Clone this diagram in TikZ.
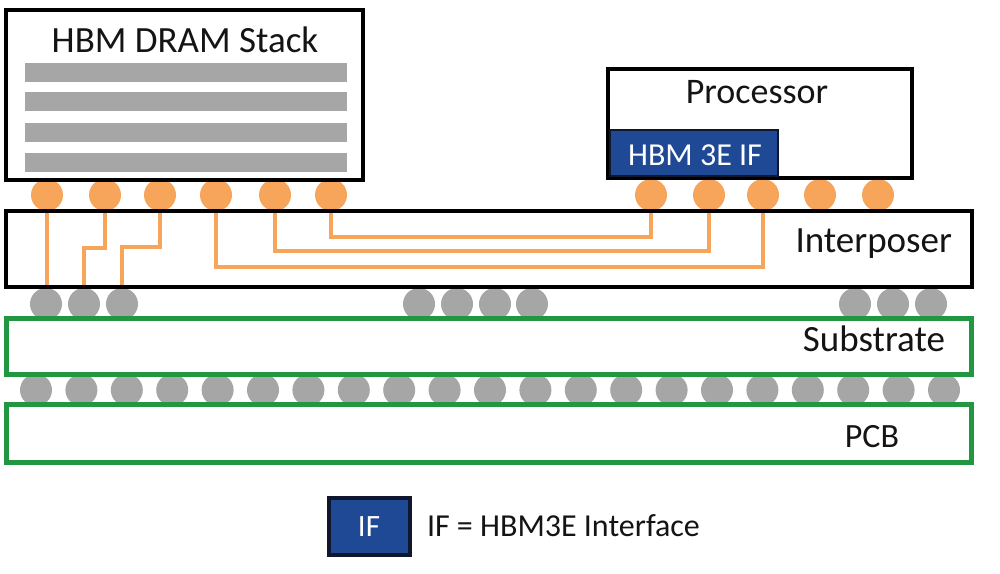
\documentclass[tikz,border=0pt]{standalone}
\usepackage{fontspec}
\setmainfont{Carlito}
\definecolor{bumporange}{RGB}{247,165,90}
\definecolor{bumpgray}{RGB}{166,166,166}
\definecolor{pkggreen}{RGB}{35,150,65}
\definecolor{ifblue}{RGB}{31,73,148}
\definecolor{ifedge}{RGB}{15,22,45}
\definecolor{txt}{RGB}{20,20,20}
\begin{document}
\begin{tikzpicture}[x=1pt,y=-1pt,
  blackbox/.style={draw=black, line width=4pt, fill=white, inner sep=0pt, outer sep=0pt},
  greenbox/.style={draw=pkggreen, line width=5pt, fill=white, inner sep=0pt, outer sep=0pt},
  obump/.style={circle, fill=bumporange, minimum size=32pt, inner sep=0pt, outer sep=0pt},
  gbump/.style={circle, fill=bumpgray, minimum size=32pt, inner sep=0pt, outer sep=0pt},
  dbar/.style={rectangle, fill=bumpgray, minimum width=322pt, minimum height=19pt, inner sep=0pt},
  wire/.style={draw=bumporange, line width=4.5pt, line join=miter},
  lbl/.style={text=txt, inner sep=0pt, outer sep=0pt},
  big/.style={font=\fontsize{37}{44}\selectfont},
  mid/.style={font=\fontsize{32}{38}\selectfont}
]
\useasboundingbox (0,0) rectangle (1000,573);

% bumps (behind the boxes)
\foreach \x [count=\i] in {47,105,160,216,275,331}
  \node[obump] (b\i) at (\x,195) {};
\foreach \x [count=\i] in {651,709,763,820,878}
  \node[obump] (p\i) at (\x,195) {};
\foreach \x [count=\i] in {46,84,122,419,457,495,532,855,893,931}
  \node[gbump] (g\i) at (\x,304) {};
\foreach \i in {0,...,20}
  \node[gbump] (l\i) at ({36+45.4*\i},390) {};

% boxes
\node[blackbox, minimum width=357pt, minimum height=170pt] (hbm) at (184.5,95) {};
\node[blackbox, minimum width=304pt, minimum height=109pt] (proc) at (760,123.5) {};
\node[fill=white, inner sep=0pt, outer sep=0pt, minimum width=966pt, minimum height=76pt] (ip) at (489,249) {};
\node[greenbox, minimum width=964.5pt, minimum height=56.5pt] (sub) at (488.75,346.25) {};
\node[greenbox, minimum width=964.5pt, minimum height=57.5pt] (pcb) at (488.75,433.25) {};

% DRAM dies
\foreach \y [count=\i] in {72.5,101.5,132.5,162.5}
  \node[dbar] (bar\i) at (186,\y) {};

% HBM 3E interface block
\node[draw=ifedge, line width=2pt, fill=ifblue, inner sep=0pt, outer sep=0pt,
      minimum width=168pt, minimum height=46pt] (ifblk) at (694,153) {};

% interposer wiring
\coordinate (j2) at (84,248);
\coordinate (j3) at (122,247);
\coordinate (r4) at (0,267);
\coordinate (r5) at (0,251);
\coordinate (r6) at (0,237);
\draw[wire] (b1 |- ip.north) -- (b1 |- ip.south);
\draw[wire] (b2 |- ip.north) |- (j2) -- (g2 |- ip.south);
\draw[wire] (b3 |- ip.north) |- (j3) -- (g3 |- ip.south);
\draw[wire] (b4 |- ip.north) -- (b4 |- r4) -| (p3 |- ip.north);
\draw[wire] (b5 |- ip.north) -- (b5 |- r5) -| (p2 |- ip.north);
\draw[wire] (b6 |- ip.north) -- (b6 |- r6) -| (p1 |- ip.north);
\draw[line width=4pt] (ip.north west) rectangle (ip.south east);

% labels
\node[lbl, big, anchor=base] (thbm) at (185,52) {HBM DRAM Stack};
\node[lbl, font=\fontsize{36}{43}\selectfont, anchor=base] (tproc) at (757,103) {Processor};
\node[lbl, mid, text=white, anchor=base] (tif) at (695,165) {HBM 3E IF};
\node[lbl, big, anchor=base east] (tip) at (952,252) {Interposer};
\node[lbl, big, anchor=base east] (tsub) at (945,351) {Substrate};
\node[lbl, font=\fontsize{34}{40}\selectfont, anchor=base] (tpcb) at (872,447) {PCB};

% legend
\node[draw=ifedge, line width=4pt, fill=ifblue, inner sep=0pt, outer sep=0pt,
      minimum width=81pt, minimum height=57pt] (legbox) at (369.5,526.5) {};
\node[lbl, font=\fontsize{31}{37}\selectfont, text=white, anchor=base] (legif) at (369,536) {IF};
\node[lbl, font=\fontsize{32}{38}\selectfont, anchor=base west] (legtxt) at (427,536) {IF = HBM3E Interface};
\end{tikzpicture}
\end{document}
